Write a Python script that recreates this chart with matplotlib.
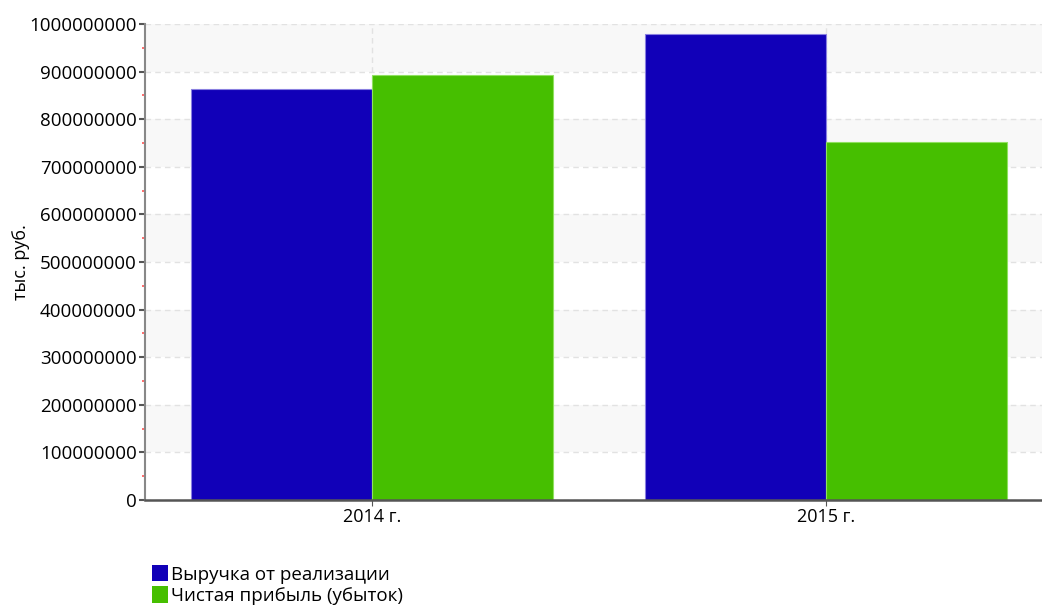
import matplotlib.pyplot as plt
import numpy as np
from matplotlib.patches import Patch
from matplotlib.ticker import MultipleLocator, FuncFormatter

years = ['2014 г.', '2015 г.']
revenue = [863000000, 979000000]
net_profit = [893000000, 752000000]
series_names = ['Выручка от реализации', 'Чистая прибыль (убыток)']

blue = '#1100b8'
green = '#46bf00'

plt.rcParams['font.family'] = ['Open Sans', 'DejaVu Sans']

fig = plt.figure(figsize=(10.42, 6.05), dpi=100)
ax = fig.add_axes([0.1392, 0.1736, 0.8714, 0.7868])

# alternating grey bands between the major gridlines
for lo in range(100000000, 1000000000, 200000000):
    ax.axhspan(lo, lo + 100000000, color='#f8f8f8', zorder=0, lw=0)

x = np.arange(len(years))
w = 0.398
ax.bar(x - w / 2, revenue, w, color=blue, edgecolor='#8a80e0', linewidth=0.8, zorder=3)
ax.bar(x + w / 2, net_profit, w, color=green, edgecolor='#90e060', linewidth=0.8, zorder=3)

ax.set_xlim(-0.5, 1.5)
ax.set_ylim(0, 1000000000)
ax.yaxis.set_major_locator(MultipleLocator(100000000))
ax.yaxis.set_minor_locator(MultipleLocator(50000000))
ax.yaxis.set_major_formatter(FuncFormatter(lambda v, pos: f'{int(round(v))}'))
ax.set_xticks(x)
ax.set_xticklabels(years, fontsize=13)
ax.tick_params(axis='y', which='major', labelsize=13.5, length=4, width=1.5, color='#555555', pad=2)
ax.tick_params(axis='y', which='minor', length=2, width=1.2, color='#ff5555')
ax.tick_params(axis='x', length=4, color='#555555', pad=2)

ax.grid(axis='both', which='major', linestyle=(0, (4, 3)), color='#e2e2e2', linewidth=1, zorder=1)
ax.set_axisbelow(True)

for side in ['top', 'right']:
    ax.spines[side].set_visible(False)
ax.spines['left'].set_color('#888888')
ax.spines['left'].set_linewidth(1.5)
ax.spines['bottom'].set_color('#555555')
ax.spines['bottom'].set_linewidth(1.8)
ax.spines['bottom'].set_zorder(4)

ax.set_ylabel('тыс. руб.', fontsize=13)
ax.yaxis.set_label_coords(-0.127, 0.5)

handles = [Patch(facecolor=blue, label=series_names[0]),
           Patch(facecolor=green, label=series_names[1])]
fig.legend(handles=handles, loc='upper left', bbox_to_anchor=(0.146, 0.066),
           frameon=False, fontsize=13.5, handlelength=0.85, handleheight=0.95,
           handletextpad=0.15, labelspacing=0.15, borderpad=0, borderaxespad=0)

plt.savefig('out.png', dpi=100)
